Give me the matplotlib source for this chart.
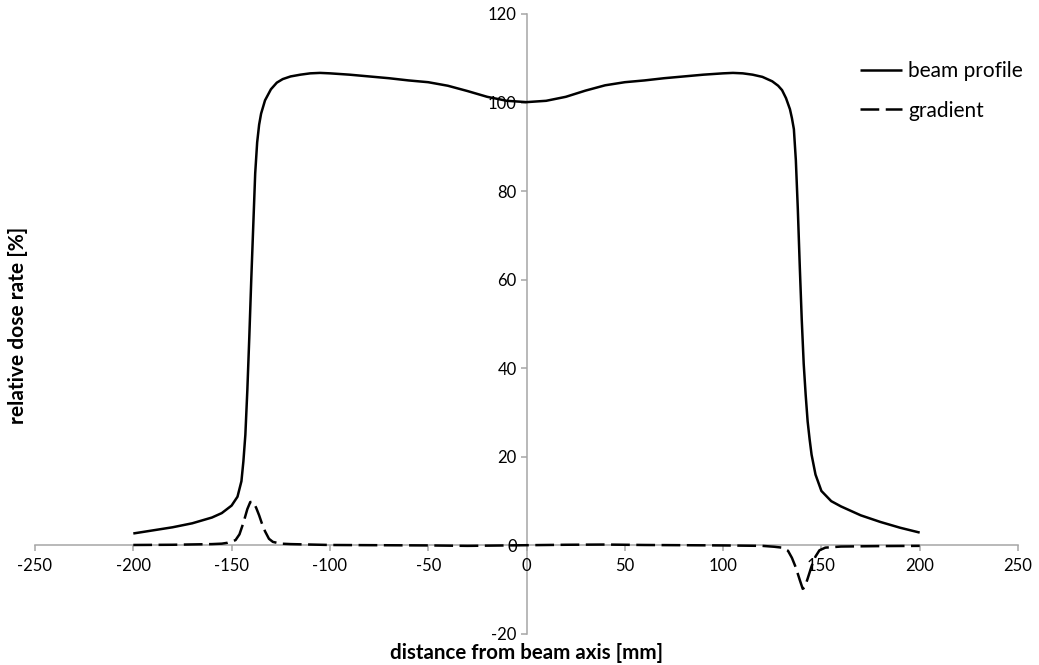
import matplotlib
matplotlib.use("Agg")
import matplotlib.pyplot as plt

plt.rcParams['font.family'] = ['Lato', 'DejaVu Sans']

# beam profile
profile_x = [-200, -190, -180, -170, -160, -155, -150, -147, -145, -144, -143, -142, -141, -140,
             -139, -138, -137, -136, -135, -133, -130, -127, -124, -120, -115, -110, -105, -100,
             -90, -80, -70, -60, -50, -40, -30, -20, -10, 0, 10, 20, 30, 40, 50, 60, 70, 80, 90,
             100, 105, 110, 115, 120, 125, 128, 130, 132, 134, 135, 136, 137, 138, 139, 140, 141,
             142, 143, 144, 145, 147, 150, 155, 160, 170, 180, 190, 200]
profile_y = [2.7, 3.4, 4.1, 5.0, 6.3, 7.3, 9.0, 11.0, 14.5, 19, 25, 35, 47, 60,
             72, 84, 91, 95, 97.5, 100.5, 103, 104.5, 105.3, 105.9, 106.3, 106.6, 106.7, 106.6,
             106.3, 105.9, 105.5, 105.0, 104.6, 103.8, 102.6, 101.3, 100.4, 100.1, 100.4, 101.3,
             102.7, 103.9, 104.6, 105.0, 105.5, 105.9, 106.3,
             106.6, 106.7, 106.6, 106.3, 105.8, 104.8, 103.8, 102.8, 101, 98.5, 96.5, 94, 87, 76,
             63, 51, 41, 34, 28, 24, 20.5, 16, 12.3, 10.0, 8.8, 6.8, 5.3, 4.0, 2.9]

# gradient
grad_x = [-200, -180, -160, -155, -152, -148, -146, -144, -142, -140.5, -139, -137.5, -136,
          -134.7, -133, -131, -129, -125, -120, -100, -50, -30, 0, 20, 40, 60, 100, 120, 126,
          130, 133, 135, 137, 139, 140.5, 141.5, 143, 145, 147, 149, 152, 160, 180, 200]
grad_y = [0.1, 0.15, 0.3, 0.4, 0.6, 1.2, 2.5, 5.1, 8.2, 9.8, 9.8, 8.5, 6.8,
          5.1, 3.2, 1.5, 0.8, 0.4, 0.3, 0.1, 0.0, -0.1, 0.05, 0.15, 0.2, 0.1, 0.0, -0.1, -0.3,
          -0.5, -1.2, -2.8, -5.0, -7.8, -9.8, -9.5, -7.5, -4.7, -2.5, -1.1, -0.5, -0.25, -0.15, -0.1]

x_ticks = [-250, -200, -150, -100, -50, 0, 50, 100, 150, 200, 250]
y_ticks = [-20, 0, 20, 40, 60, 80, 100, 120]

fig = plt.figure(figsize=(10.39, 6.65), dpi=100)
ax = fig.add_axes([35 / 1039, 1 - 634 / 665, (1018 - 35) / 1039, (634 - 14) / 665])

ax.plot(profile_x, profile_y, color='black', lw=1.8, label='beam profile',
        solid_joinstyle='round', solid_capstyle='butt', zorder=4)
ax.plot(grad_x, grad_y, color='black', lw=1.8, label='gradient',
        dashes=(7.5, 2.6), dash_capstyle='butt', zorder=4)

ax.set_xlim(-250, 250)
ax.set_ylim(-20, 120)
ax.set_xticks(x_ticks)
ax.set_yticks(y_ticks)
ax.set_xticklabels([str(v) for v in x_ticks])
ax.set_yticklabels([str(v) for v in y_ticks])

for s in ['top', 'right']:
    ax.spines[s].set_visible(False)
ax.spines['left'].set_position(('data', 0))
ax.spines['bottom'].set_position(('data', 0))
for s in ['left', 'bottom']:
    ax.spines[s].set_color('#a6a6a6')
    ax.spines[s].set_linewidth(1.1)
    ax.spines[s].set_zorder(1)

ax.tick_params(axis='both', direction='out', length=4, width=1.1, color='#a6a6a6',
               labelsize=12, labelcolor='black')
ax.tick_params(axis='x', pad=5)
ax.tick_params(axis='y', pad=3)

fig.text(527 / 1039, 1 - 659 / 665, 'distance from beam axis [mm]', ha='center', va='baseline',
         fontsize=14.8, fontweight='bold')
fig.text(18 / 1039, 1 - 325 / 665, 'relative dose rate [%]', ha='center', va='center',
         rotation=90, fontsize=15, fontweight='bold')

leg = ax.legend(loc='upper left', bbox_to_anchor=(860 / 1039, 1 - 61 / 665),
                bbox_transform=fig.transFigure, frameon=False, fontsize=15,
                handlelength=2.0, handletextpad=0.3, labelspacing=0.95, borderpad=0,
                borderaxespad=0)

fig.savefig('out.png', dpi=100, facecolor='white')
